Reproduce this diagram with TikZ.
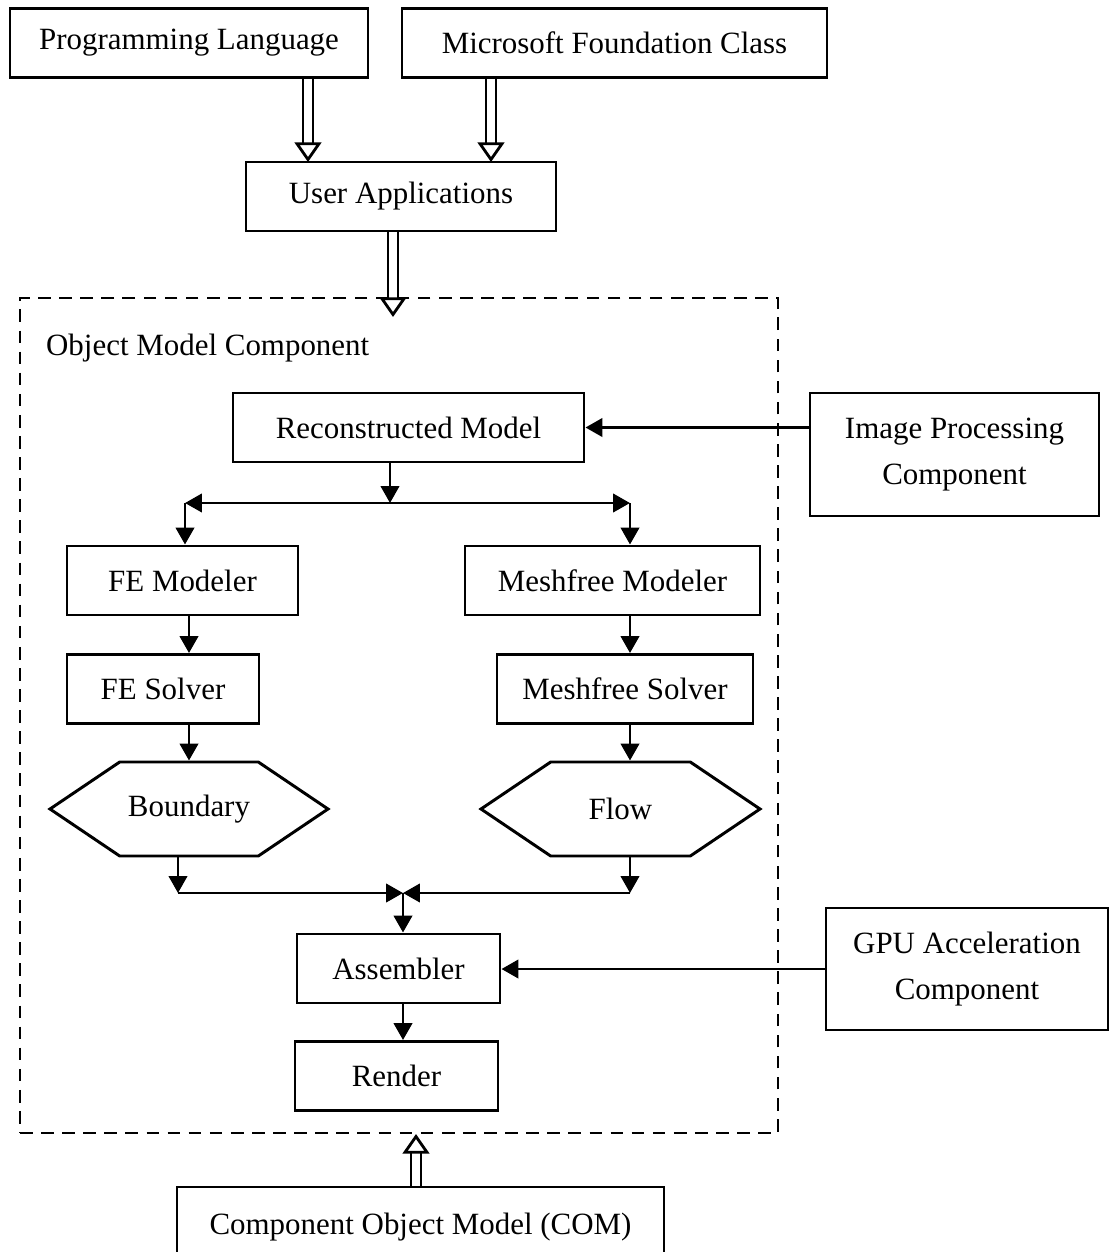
\documentclass[tikz,border=0pt]{standalone}
\usepackage{fontspec}
\setmainfont{Liberation Serif}
\usetikzlibrary{arrows.meta,shapes.symbols}
\newcommand{\px}{0.025cm}

\begin{document}
\begin{tikzpicture}[x=\px, y=-\px, line width=2.1pt,
    box/.style={draw, rectangle, minimum height=69*\px, inner sep=2pt},
    hexa/.style={draw, signal, signal to=west and east, signal pointer angle=68, minimum height=94*\px, inner sep=0pt},
    dashbox/.style={draw, rectangle, dash pattern=on 9pt off 6pt},
    arr/.style={-{Triangle[length=12pt,width=13pt]}},
    hollow/.style={double=white, double distance=5pt, line width=2pt, -{Triangle[open, length=14pt, width=19pt]}}]
    \tikzstyle{every node}=[font=\fontsize{22}{33}\selectfont]
    \useasboundingbox (0,0) rectangle (1110,1252);

    \node[box, minimum width=358*\px] (pl) at (189,43) {Programming Language};
    \node[box, minimum width=425*\px] (mfc) at (614.5,43) {Microsoft Foundation Class};
    \node[box, minimum width=310*\px] (ua) at (401,196.5) {User Applications};

    \node[dashbox, minimum width=758*\px, minimum height=835*\px] (omc) at (399,715.5) {};
    \node[anchor=west] (omclabel) at (40,348) {Object Model Component};

    \node[box, minimum width=351*\px] (rm) at (408.5,427.5) {Reconstructed Model};
    \node[box, minimum width=289*\px, minimum height=123*\px, align=center] (ip) at (954.5,454.5) {Image Processing\\Component};
    \node[box, minimum width=231*\px] (fem) at (182.5,580.5) {FE Modeler};
    \node[box, minimum width=295*\px] (mfm) at (612.5,580.5) {Meshfree Modeler};
    \node[box, minimum width=192*\px] (fes) at (163,689) {FE Solver};
    \node[box, minimum width=256*\px] (mfs) at (625,689) {Meshfree Solver};
    \node[hexa, minimum width=278*\px] (bd) at (189,809) {Boundary};
    \node[hexa, minimum width=279*\px] (fl) at (620.5,809) {Flow};
    \node[box, minimum width=203*\px] (asm) at (398.5,968.5) {Assembler};
    \node[box, minimum width=203*\px] (rnd) at (396.5,1076) {Render};
    \node[box, minimum width=282*\px, minimum height=122*\px, align=center] (gpu) at (967,969) {GPU Acceleration\\Component};
    \node[box, minimum width=487*\px, minimum height=80*\px] (com) at (420.5,1227) {Component Object Model (COM)};

    \coordinate (in1) at (308,162);
    \coordinate (in2) at (491,162);
    \coordinate (omcin) at (393,317);
    \coordinate (omcout) at (416,1134);
    \coordinate (split) at (390,503);
    \coordinate (sl) at (185,503);
    \coordinate (sr) at (630,503);
    \coordinate (ml) at (178,893);
    \coordinate (mr) at (630,893);
    \coordinate (mc) at (403,893);

    \draw[hollow] (pl.south -| in1) -- (in1);
    \draw[hollow] (mfc.south -| in2) -- (in2);
    \draw[hollow] (ua.south -| omcin) -- (omcin);
    \draw[hollow] (com.north -| omcout) -- (omcout);

    \draw[arr] (ip.west |- rm.east) -- (rm.east);
    \draw[arr] (rm.south -| split) -- (split);
    \draw[arr] (split) -- (sl);
    \draw[arr] (split) -- (sr);
    \draw[arr] (sl) -- (fem.north -| sl);
    \draw[arr] (sr) -- (mfm.north -| sr);
    \draw[arr] (fem.south -| bd) -- (fes.north -| bd);
    \draw[arr] (fes.south -| bd) -- (bd.north);
    \draw[arr] (mfm.south -| sr) -- (mfs.north -| sr);
    \draw[arr] (mfs.south -| sr) -- (fl.north -| sr);
    \draw[arr] (bd.south -| ml) -- (ml);
    \draw[arr] (fl.south -| mr) -- (mr);
    \draw[arr] (ml) -- (mc);
    \draw[arr] (mr) -- (mc);
    \draw[arr] (mc) -- (asm.north -| mc);
    \draw[arr] (asm.south -| mc) -- (rnd.north -| mc);
    \draw[arr] (gpu.west) -- (asm.east |- gpu.west);
\end{tikzpicture}
\end{document}
